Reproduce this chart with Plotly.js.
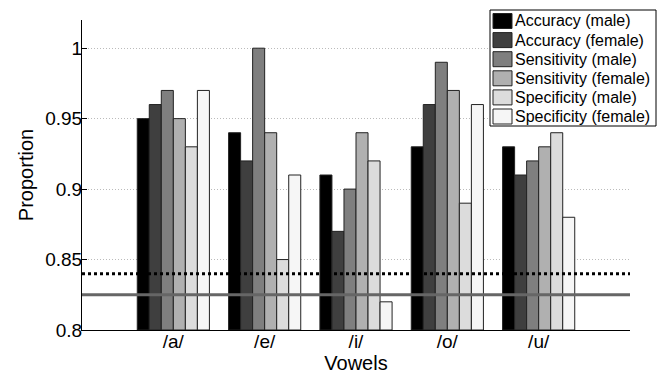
<!DOCTYPE html>
<html><head><meta charset="utf-8">
<script src="https://cdn.plot.ly/plotly-3.0.1.min.js"></script>
<style>html,body{margin:0;padding:0;background:#fff}</style>
</head><body>
<div id="chart" style="width:662px;height:378px"></div>
<script>
const vowels = ['/a/', '/e/', '/i/', '/o/', '/u/'];
const seriesNames = ['Accuracy (male)', 'Accuracy (female)', 'Sensitivity (male)', 'Sensitivity (female)', 'Specificity (male)', 'Specificity (female)'];
const accuracyMale = [0.95, 0.94, 0.91, 0.93, 0.93];
const accuracyFemale = [0.96, 0.92, 0.87, 0.96, 0.91];
const sensitivityMale = [0.97, 1.00, 0.90, 0.99, 0.92];
const sensitivityFemale = [0.95, 0.94, 0.94, 0.97, 0.93];
const specificityMale = [0.93, 0.85, 0.92, 0.89, 0.94];
const specificityFemale = [0.97, 0.91, 0.82, 0.96, 0.88];
const dottedLevel = 0.84;
const solidLevel = 0.825;
const yBase = 0.8;

const colors = ['#000000', '#3f3f3f', '#7f7f7f', '#b0b0b0', '#dcdcdc', '#f6f6f6'];
const allValues = [accuracyMale, accuracyFemale, sensitivityMale, sensitivityFemale, specificityMale, specificityFemale];
const xpos = vowels.map((v, i) => i + 1);

const traces = allValues.map((vals, k) => ({
  type: 'bar', x: xpos, y: vals.map(v => v - yBase), base: yBase, name: seriesNames[k],
  marker: {color: colors[k], line: {color: '#222', width: 1}},
  showlegend: false
}));

traces.push({type: 'scatter', mode: 'lines', x: [0, 6], y: [dottedLevel, dottedLevel],
  line: {color: '#000', width: 3, dash: 'dot'}, showlegend: false, hoverinfo: 'skip'});
traces.push({type: 'scatter', mode: 'lines', x: [0, 6], y: [solidLevel, solidLevel],
  line: {color: '#666', width: 3}, showlegend: false, hoverinfo: 'skip'});

// plot area geometry (px) for the hand-built legend box
const W = 662, H = 378, mL = 82, mR = 32, mT = 20, mB = 48;
const pw = W - mL - mR, ph = H - mT - mB;
const px = v => (v - mL) / pw;
const py = v => (H - mB - v) / ph;

const shapes = [{type: 'rect', xref: 'paper', yref: 'paper', x0: px(490), x1: px(656), y0: py(126), y1: py(10),
  fillcolor: '#fff', line: {color: '#000', width: 1}, layer: 'above'}];
const annotations = [];
seriesNames.forEach((name, k) => {
  const cy = 21 + k * 19.1;
  shapes.push({type: 'rect', xref: 'paper', yref: 'paper', x0: px(493), x1: px(512), y0: py(cy + 7.5), y1: py(cy - 7.5),
    fillcolor: colors[k], line: {color: '#222', width: 1}, layer: 'above'});
  annotations.push({xref: 'paper', yref: 'paper', x: px(513), y: py(cy), xanchor: 'left', yanchor: 'middle',
    text: name, showarrow: false, font: {size: 16, color: '#000'}});
});

const layout = {
  width: W, height: H,
  margin: {l: mL, r: mR, t: mT, b: mB},
  paper_bgcolor: '#fff', plot_bgcolor: '#fff',
  font: {family: 'Liberation Sans, Arial, sans-serif', color: '#000'},
  barmode: 'group', bargap: 0.21, bargroupgap: 0,
  showlegend: false,
  shapes: shapes, annotations: annotations,
  xaxis: {range: [0, 6], tickvals: xpos, ticktext: vowels, showline: true,
    linecolor: '#000', linewidth: 1, ticks: '', showgrid: false, zeroline: false,
    ticklabelstandoff: -6,
    tickfont: {size: 19}, title: {text: 'Vowels', font: {size: 20}, standoff: 0}},
  yaxis: {range: [0.8, 1.02], dtick: 0.05, tick0: 0.8, showline: true,
    linecolor: '#000', linewidth: 1, ticks: 'inside', ticklen: 5, tickcolor: '#000',
    showgrid: true, gridcolor: '#bbbbbb', griddash: '1px,2px', gridwidth: 1, zeroline: false,
    ticklabelstandoff: -5,
    tickfont: {size: 19}, title: {text: 'Proportion', font: {size: 20}, standoff: 6}}
};

Plotly.newPlot('chart', traces, layout, {displayModeBar: false, staticPlot: true});
</script>
</body></html>
